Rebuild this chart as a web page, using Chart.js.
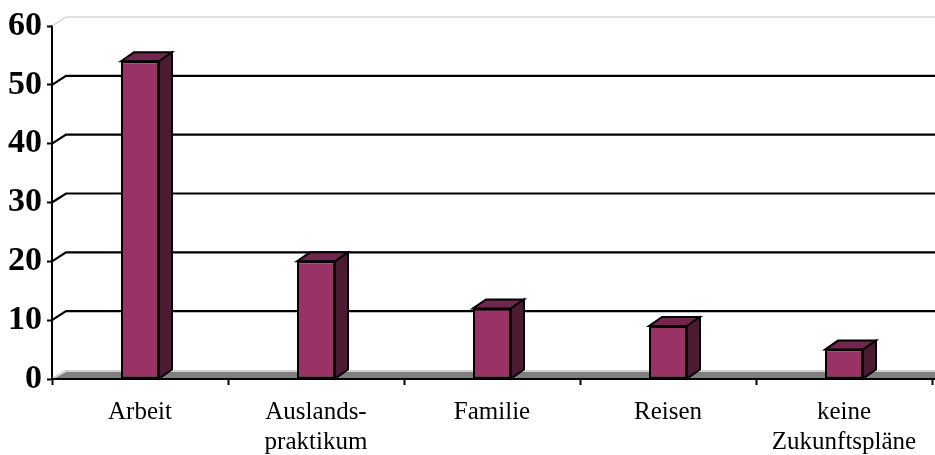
<!DOCTYPE html>
<html>
<head>
<meta charset="utf-8">
<script src="https://cdn.jsdelivr.net/npm/chart.js@4/dist/chart.umd.min.js"></script>
<style>
html,body{margin:0;padding:0;background:#fff;}
#c{display:block;}
</style>
</head>
<body>
<canvas id="c" width="935" height="455"></canvas>
<script>
const categories = [['Arbeit'], ['Auslands-', 'praktikum'], ['Familie'], ['Reisen'], ['keine', 'Zukunftspläne']];
const values = [54, 20, 12, 9, 5];
const yTicks = [0, 10, 20, 30, 40, 50, 60];

const DX = 14, DY = -9;      // wall depth offset
const BDX = 13, BDY = -9;    // bar depth offset

const wallPlugin = {
  id: 'wall3d',
  beforeDatasetsDraw(chart) {
    const ctx = chart.ctx, y = chart.scales.y;
    const left = chart.chartArea.left, right = chart.width;
    ctx.save();
    const y0 = y.getPixelForValue(0);
    ctx.fillStyle = '#808080';
    ctx.beginPath();
    ctx.moveTo(left, y0);
    ctx.lineTo(left + DX, y0 + DY);
    ctx.lineTo(right, y0 + DY);
    ctx.lineTo(right, y0);
    ctx.closePath();
    ctx.fill();
    ctx.strokeStyle = '#d0d0d0';
    ctx.lineWidth = 2;
    ctx.beginPath();
    ctx.moveTo(left + 1, y0 - 1);
    ctx.lineTo(left + DX, y0 + DY + 1);
    ctx.lineTo(right, y0 + DY + 1);
    ctx.stroke();
    yTicks.forEach(v => {
      if (v === 0) return;
      const py = y.getPixelForValue(v);
      if (v === yTicks[yTicks.length - 1]) {
        ctx.strokeStyle = '#c0c0c0';
        ctx.lineWidth = 1;
      } else {
        ctx.strokeStyle = '#000';
        ctx.lineWidth = 2.2;
      }
      ctx.beginPath();
      ctx.moveTo(left, py);
      ctx.lineTo(left + DX, py + DY);
      ctx.lineTo(right, py + DY);
      ctx.stroke();
    });
    ctx.restore();
  },
  afterDatasetsDraw(chart) {
    const ctx = chart.ctx;
    const meta = chart.getDatasetMeta(0);
    ctx.save();
    ctx.lineJoin = 'miter';
    ctx.strokeStyle = '#000';
    ctx.lineWidth = 2;
    meta.data.forEach(bar => {
      const p = bar.getProps(['x', 'y', 'base', 'width'], true);
      const l = p.x - p.width / 2, r = p.x + p.width / 2, t = p.y, b = p.base;
      ctx.fillStyle = '#73264d';
      ctx.beginPath();
      ctx.moveTo(l, t);
      ctx.lineTo(l + BDX, t + BDY);
      ctx.lineTo(r + BDX, t + BDY);
      ctx.lineTo(r, t);
      ctx.closePath();
      ctx.fill();
      ctx.stroke();
      ctx.fillStyle = '#4d1a33';
      ctx.beginPath();
      ctx.moveTo(r, t);
      ctx.lineTo(r + BDX, t + BDY);
      ctx.lineTo(r + BDX, b + BDY);
      ctx.lineTo(r, b);
      ctx.closePath();
      ctx.fill();
      ctx.stroke();
    });
    ctx.restore();
  },
  afterDraw(chart) {
    const ctx = chart.ctx, y = chart.scales.y;
    const y0 = y.getPixelForValue(0);
    ctx.save();
    ctx.strokeStyle = '#000';
    ctx.lineWidth = 2;
    ctx.beginPath();
    ctx.moveTo(chart.chartArea.right, y0);
    ctx.lineTo(chart.width, y0);
    ctx.stroke();
    ctx.restore();
  }
};

new Chart(document.getElementById('c'), {
  type: 'bar',
  data: {
    labels: categories,
    datasets: [{
      data: values,
      backgroundColor: '#993366',
      borderColor: '#000',
      borderWidth: 2,
      borderSkipped: false,
      categoryPercentage: 1,
      barPercentage: 0.216
    }]
  },
  options: {
    responsive: false,
    animation: false,
    devicePixelRatio: 1,
    layout: { padding: { top: 26, right: 3, left: 0, bottom: 0 } },
    plugins: { legend: { display: false }, tooltip: { enabled: false } },
    scales: {
      x: {
        afterFit(s) { s.height = 76; },
        grid: { drawOnChartArea: false, drawTicks: true, tickLength: 6, tickColor: '#000', tickWidth: 2 },
        border: { display: true, color: '#000', width: 2, z: 1 },
        ticks: {
          color: '#000',
          padding: 13,
          maxRotation: 0,
          autoSkip: false,
          font: { family: '"Liberation Serif", "Times New Roman", serif', size: 25, lineHeight: 1.18 }
        }
      },
      y: {
        min: 0,
        max: 60,
        afterFit(s) { s.width = 52; },
        afterBuildTicks(s) { s.ticks = yTicks.map(v => ({ value: v })); },
        grid: { drawOnChartArea: false, drawTicks: true, tickLength: 5, tickColor: '#000', tickWidth: 2 },
        border: { display: true, color: '#000', width: 2 },
        ticks: {
          color: '#000',
          padding: 5,
          font: { family: '"Liberation Serif", "Times New Roman", serif', size: 34, weight: 'bold' }
        }
      }
    }
  },
  plugins: [wallPlugin]
});
</script>
</body>
</html>
